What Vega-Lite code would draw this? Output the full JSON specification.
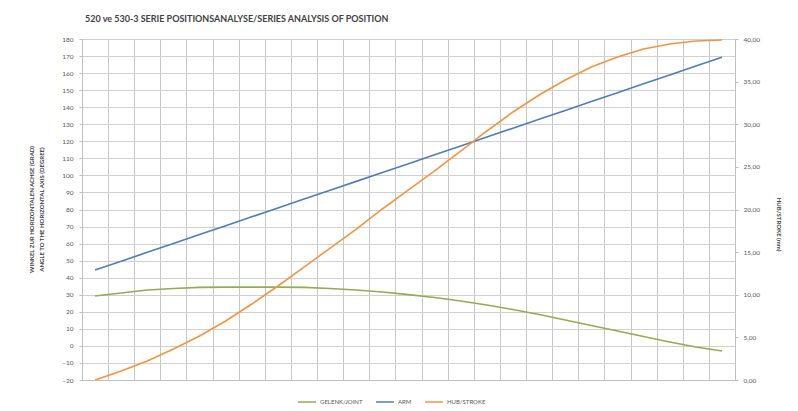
{
  "$schema": "https://vega.github.io/schema/vega-lite/v6.json",
  "width": 653,
  "height": 341,
  "autosize": {"type": "none"},
  "padding": {"left": 82, "top": 39, "right": 63, "bottom": 31},
  "background": "white",
  "config": {
    "font": "Lato",
    "view": {"stroke": "#bfbfbf", "strokeWidth": 1},
    "axis": {"labelFont": "Lato", "titleFont": "Lato"}
  },
  "title": {
    "text": "520 ve 530-3 SERIE POSITIONSANALYSE/SERIES ANALYSIS OF POSITION",
    "anchor": "start",
    "frame": "group",
    "fontSize": 9,
    "fontWeight": "bold",
    "color": "#404040",
    "offset": 12,
    "dx": 3
  },
  "datasets": {
    "rows": [
      {"pos": 1, "series": "GELENK/JOINT", "value": 29.3},
      {"pos": 2, "series": "GELENK/JOINT", "value": 31.0},
      {"pos": 3, "series": "GELENK/JOINT", "value": 32.8},
      {"pos": 4, "series": "GELENK/JOINT", "value": 33.7},
      {"pos": 5, "series": "GELENK/JOINT", "value": 34.3},
      {"pos": 6, "series": "GELENK/JOINT", "value": 34.5},
      {"pos": 7, "series": "GELENK/JOINT", "value": 34.5},
      {"pos": 8, "series": "GELENK/JOINT", "value": 34.5},
      {"pos": 9, "series": "GELENK/JOINT", "value": 34.3},
      {"pos": 10, "series": "GELENK/JOINT", "value": 33.7},
      {"pos": 11, "series": "GELENK/JOINT", "value": 32.8},
      {"pos": 12, "series": "GELENK/JOINT", "value": 31.6},
      {"pos": 13, "series": "GELENK/JOINT", "value": 30.1},
      {"pos": 14, "series": "GELENK/JOINT", "value": 28.4},
      {"pos": 15, "series": "GELENK/JOINT", "value": 26.3},
      {"pos": 16, "series": "GELENK/JOINT", "value": 24.0},
      {"pos": 17, "series": "GELENK/JOINT", "value": 21.3},
      {"pos": 18, "series": "GELENK/JOINT", "value": 18.4},
      {"pos": 19, "series": "GELENK/JOINT", "value": 15.2},
      {"pos": 20, "series": "GELENK/JOINT", "value": 12.0},
      {"pos": 21, "series": "GELENK/JOINT", "value": 8.7},
      {"pos": 22, "series": "GELENK/JOINT", "value": 5.5},
      {"pos": 23, "series": "GELENK/JOINT", "value": 2.3},
      {"pos": 24, "series": "GELENK/JOINT", "value": -0.6},
      {"pos": 25, "series": "GELENK/JOINT", "value": -3.0},
      {"pos": 1, "series": "ARM", "value": 44.5},
      {"pos": 2, "series": "ARM", "value": 49.7},
      {"pos": 3, "series": "ARM", "value": 54.9},
      {"pos": 4, "series": "ARM", "value": 60.1},
      {"pos": 5, "series": "ARM", "value": 65.3},
      {"pos": 6, "series": "ARM", "value": 70.5},
      {"pos": 7, "series": "ARM", "value": 75.7},
      {"pos": 8, "series": "ARM", "value": 80.9},
      {"pos": 9, "series": "ARM", "value": 86.1},
      {"pos": 10, "series": "ARM", "value": 91.3},
      {"pos": 11, "series": "ARM", "value": 96.5},
      {"pos": 12, "series": "ARM", "value": 101.7},
      {"pos": 13, "series": "ARM", "value": 106.9},
      {"pos": 14, "series": "ARM", "value": 112.1},
      {"pos": 15, "series": "ARM", "value": 117.3},
      {"pos": 16, "series": "ARM", "value": 122.5},
      {"pos": 17, "series": "ARM", "value": 127.7},
      {"pos": 18, "series": "ARM", "value": 132.9},
      {"pos": 19, "series": "ARM", "value": 138.1},
      {"pos": 20, "series": "ARM", "value": 143.3},
      {"pos": 21, "series": "ARM", "value": 148.5},
      {"pos": 22, "series": "ARM", "value": 153.7},
      {"pos": 23, "series": "ARM", "value": 158.9},
      {"pos": 24, "series": "ARM", "value": 164.1},
      {"pos": 25, "series": "ARM", "value": 169.3},
      {"pos": 1, "series": "HUB/STROKE", "value": 0.0},
      {"pos": 2, "series": "HUB/STROKE", "value": 1.06},
      {"pos": 3, "series": "HUB/STROKE", "value": 2.23},
      {"pos": 4, "series": "HUB/STROKE", "value": 3.64},
      {"pos": 5, "series": "HUB/STROKE", "value": 5.16},
      {"pos": 6, "series": "HUB/STROKE", "value": 6.92},
      {"pos": 7, "series": "HUB/STROKE", "value": 8.91},
      {"pos": 8, "series": "HUB/STROKE", "value": 11.03},
      {"pos": 9, "series": "HUB/STROKE", "value": 13.25},
      {"pos": 10, "series": "HUB/STROKE", "value": 15.48},
      {"pos": 11, "series": "HUB/STROKE", "value": 17.71},
      {"pos": 12, "series": "HUB/STROKE", "value": 20.06},
      {"pos": 13, "series": "HUB/STROKE", "value": 22.29},
      {"pos": 14, "series": "HUB/STROKE", "value": 24.52},
      {"pos": 15, "series": "HUB/STROKE", "value": 26.86},
      {"pos": 16, "series": "HUB/STROKE", "value": 29.21},
      {"pos": 17, "series": "HUB/STROKE", "value": 31.44},
      {"pos": 18, "series": "HUB/STROKE", "value": 33.43},
      {"pos": 19, "series": "HUB/STROKE", "value": 35.19},
      {"pos": 20, "series": "HUB/STROKE", "value": 36.71},
      {"pos": 21, "series": "HUB/STROKE", "value": 37.89},
      {"pos": 22, "series": "HUB/STROKE", "value": 38.83},
      {"pos": 23, "series": "HUB/STROKE", "value": 39.41},
      {"pos": 24, "series": "HUB/STROKE", "value": 39.77},
      {"pos": 25, "series": "HUB/STROKE", "value": 39.88}
    ]
  },
  "data": {"name": "rows"},
  "encoding": {
    "x": {
      "field": "pos",
      "type": "quantitative",
      "scale": {"domain": [0.5, 25.5], "nice": false, "zero": false},
      "axis": {
        "values": [0.5, 1.5, 2.5, 3.5, 4.5, 5.5, 6.5, 7.5, 8.5, 9.5, 10.5, 11.5, 12.5, 13.5, 14.5, 15.5, 16.5, 17.5, 18.5, 19.5, 20.5, 21.5, 22.5, 23.5, 24.5, 25.5],
        "labels": false,
        "ticks": false,
        "title": null,
        "domainColor": "#bfbfbf",
        "grid": true,
        "gridColor": "#c6c6c6",
        "gridWidth": 1
      }
    },
    "color": {
      "field": "series",
      "type": "nominal",
      "scale": {
        "domain": ["GELENK/JOINT", "ARM", "HUB/STROKE"],
        "range": ["#8fae4f", "#4a7ebb", "#f7933f"]
      },
      "legend": {
        "orient": "none",
        "legendX": 215,
        "legendY": 353,
        "direction": "horizontal",
        "title": null,
        "symbolType": "stroke",
        "symbolSize": 320,
        "symbolStrokeWidth": 1.5,
        "labelFontSize": 6,
        "labelColor": "#595959",
        "columnPadding": 10,
        "labelOffset": 3
      }
    }
  },
  "layer": [
    {
      "transform": [{"filter": "datum.series !== 'HUB/STROKE'"}],
      "mark": {"type": "line", "strokeWidth": 1.6},
      "encoding": {
        "y": {
          "field": "value",
          "type": "quantitative",
          "scale": {"domain": [-20, 180], "nice": false, "zero": false},
          "axis": {
            "orient": "left",
            "values": [-20, -10, 0, 10, 20, 30, 40, 50, 60, 70, 80, 90, 100, 110, 120, 130, 140, 150, 160, 170, 180],
            "labelFontSize": 6.5,
            "labelColor": "#595959",
            "labelPadding": 6,
            "tickSize": 3,
            "tickColor": "#bfbfbf",
            "domainColor": "#bfbfbf",
            "grid": true,
            "gridColor": "#d0d0d0",
            "title": ["WINKEL ZUR HORIZONTALEN ACHSE (GRAD)", "ANGLE TO THE HORIZONTAL AXIS (DEGREE)"],
            "titleFontSize": 6,
            "titleFontWeight": "bold",
            "titleColor": "#404040",
            "titleLineHeight": 10,
            "titleAngle": -90,
            "titleX": -51,
            "titleY": 170,
            "titleAlign": "center",
            "titleBaseline": "middle"
          }
        }
      }
    },
    {
      "transform": [{"filter": "datum.series === 'HUB/STROKE'"}],
      "mark": {"type": "line", "strokeWidth": 1.6},
      "encoding": {
        "y": {
          "field": "value",
          "type": "quantitative",
          "scale": {"domain": [0, 40], "nice": false, "zero": true},
          "axis": {
            "orient": "right",
            "values": [0, 5, 10, 15, 20, 25, 30, 35, 40],
            "format": ".2f",
            "labelExpr": "replace(datum.label, '.', ',')",
            "labelFontSize": 6.5,
            "labelColor": "#595959",
            "labelPadding": 5,
            "tickSize": 3,
            "tickColor": "#bfbfbf",
            "domainColor": "#bfbfbf",
            "grid": false,
            "title": "HUB/STROKE (mm)",
            "titleFontSize": 6,
            "titleFontWeight": "bold",
            "titleColor": "#404040",
            "titleAngle": 90,
            "titleX": 43,
            "titleY": 185,
            "titleAlign": "center",
            "titleBaseline": "middle"
          }
        }
      }
    }
  ],
  "resolve": {"scale": {"y": "independent"}}
}
